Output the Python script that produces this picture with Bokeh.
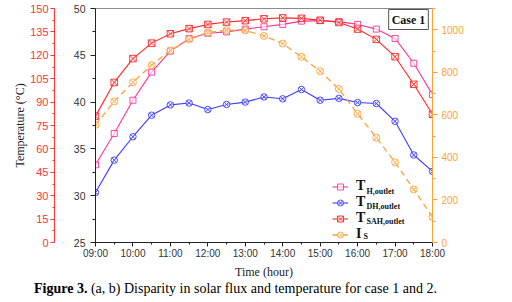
import math
from bokeh.plotting import figure
from bokeh.layouts import column
from bokeh.models import (Range1d, LinearAxis, FixedTicker, Label, Legend,
                          LegendItem, Div)
from bokeh.embed import file_html
from bokeh.resources import INLINE

# Half-hourly measurements, case 1
times = ["09:00", "09:30", "10:00", "10:30", "11:00", "11:30", "12:00", "12:30",
         "13:00", "13:30", "14:00", "14:30", "15:00", "15:30", "16:00", "16:30",
         "17:00", "17:30", "18:00"]
t_h_outlet = [33.3, 36.65, 40.2, 43.2, 45.45, 46.8, 47.35, 47.5, 47.8, 48.05,
              48.3, 48.65, 48.7, 48.6, 48.3, 47.8, 46.8, 44.15, 40.8]
t_dh_outlet = [30.35, 33.8, 36.3, 38.6, 39.7, 39.9, 39.2, 39.75, 40.0, 40.55,
               40.35, 41.35, 40.2, 40.4, 39.95, 39.85, 37.95, 34.35, 32.6]
t_sah_outlet = [38.5, 42.1, 44.65, 46.3, 47.3, 47.85, 48.3, 48.55, 48.7, 48.9,
                49.0, 48.95, 48.75, 48.5, 47.8, 46.7, 44.85, 41.9, 38.7]
solar_is = [553, 663, 753, 834, 903, 955, 987, 998, 997, 971,
            935, 873, 805, 722, 605, 493, 377, 249, 120]

hour_labels = ["09:00", "10:00", "11:00", "12:00", "13:00", "14:00",
               "15:00", "16:00", "17:00", "18:00"]
temp_ticks = [25, 30, 35, 40, 45, 50]
temp_outer_ticks = [0, 15, 30, 45, 60, 75, 90, 105, 120, 135, 150]
solar_ticks = [0, 200, 400, 600, 800, 1000]

PINK = "#ff3399"
BLUE = "#3b3bff"
RED = "#ff2626"
ORANGE = "#ffa238"
AXIS_RED = "#ff3333"
TICK_FONT = "Liberation Sans"
SERIF = "Liberation Serif"


def to_hours(s):
    h, m = s.split(":")
    return int(h) + int(m) / 60.0


def midpoints(ticks):
    return [(a + b) / 2.0 for a, b in zip(ticks[:-1], ticks[1:])]


x = [to_hours(t) for t in times]
hour_ticks = [to_hours(t) for t in hour_labels]
x0, x1 = hour_ticks[0], hour_ticks[-1]

p = figure(width=512, height=282, output_backend="svg", toolbar_location=None,
           x_range=Range1d(x0, x1),
           y_range=Range1d(temp_ticks[0], temp_ticks[-1]),
           min_border_left=95, min_border_right=80, min_border_top=8,
           min_border_bottom=40)
p.extra_y_ranges = {"outer": Range1d(temp_outer_ticks[0], temp_outer_ticks[-1]),
                    "solar": Range1d(0, 1100)}
p.grid.visible = False
p.background_fill_color = "white"
p.border_fill_color = "white"
p.outline_line_color = "#8c8c8c"
p.outline_line_width = 1

# bottom time axis
xa = p.xaxis[0]
xa.ticker = FixedTicker(ticks=hour_ticks, minor_ticks=midpoints(hour_ticks))
xa.major_label_overrides = {h: lbl for h, lbl in zip(hour_ticks, hour_labels)}
xa.axis_label = "Time (hour)"
xa.axis_label_text_font = SERIF
xa.axis_label_text_font_style = "normal"
xa.axis_label_text_font_size = "12px"
xa.axis_label_text_color = "#222222"
xa.axis_label_standoff = 3
xa.major_label_text_font = TICK_FONT
xa.major_label_text_font_size = "10px"
xa.major_label_text_color = "#333333"
xa.major_label_standoff = 1
xa.axis_line_color = "#222222"
xa.major_tick_line_color = "#222222"
xa.minor_tick_line_color = "#222222"
xa.major_tick_out = 4
xa.major_tick_in = 0
xa.minor_tick_out = 2
xa.minor_tick_in = 0

# inner temperature axis (25-50)
ya = p.yaxis[0]
ya.ticker = FixedTicker(ticks=temp_ticks, minor_ticks=midpoints(temp_ticks))
ya.major_label_text_font = TICK_FONT
ya.major_label_text_font_size = "10.5px"
ya.major_label_text_color = "#333333"
ya.major_label_standoff = 5
ya.axis_line_color = "#222222"
ya.major_tick_line_color = "#222222"
ya.minor_tick_line_color = "#222222"
ya.major_tick_out = 5
ya.major_tick_in = 0
ya.minor_tick_out = 3
ya.minor_tick_in = 0
ya.axis_label = " "
ya.axis_label_text_font_size = "8px"
ya.axis_label_standoff = 4

# outer temperature axis (0-150), carrying the shared temperature title
outer = LinearAxis(y_range_name="outer",
                   ticker=FixedTicker(ticks=temp_outer_ticks,
                                      minor_ticks=midpoints(temp_outer_ticks)))
outer.axis_label = "Temperature (\u00b0C)"
outer.axis_label_text_font = SERIF
outer.axis_label_text_font_style = "normal"
outer.axis_label_text_font_size = "12px"
outer.axis_label_text_color = "#222222"
outer.axis_label_standoff = 0
outer.major_label_text_font = TICK_FONT
outer.major_label_text_font_size = "11px"
outer.major_label_text_color = AXIS_RED
outer.major_label_standoff = 2
outer.axis_line_color = AXIS_RED
outer.major_tick_line_color = AXIS_RED
outer.minor_tick_line_color = AXIS_RED
outer.major_tick_out = 4
outer.major_tick_in = 0
outer.minor_tick_out = 2
outer.minor_tick_in = 0
p.add_layout(outer, "left")

# solar intensity axis
solar_ax = LinearAxis(y_range_name="solar",
                      ticker=FixedTicker(ticks=solar_ticks,
                                         minor_ticks=midpoints(solar_ticks) + [1100]))
solar_ax.major_label_text_font = TICK_FONT
solar_ax.major_label_text_font_size = "10px"
solar_ax.major_label_text_color = ORANGE
solar_ax.major_label_standoff = 4
solar_ax.axis_line_color = ORANGE
solar_ax.major_tick_line_color = ORANGE
solar_ax.minor_tick_line_color = ORANGE
solar_ax.major_tick_out = 5
solar_ax.major_tick_in = 0
solar_ax.minor_tick_out = 3
solar_ax.minor_tick_in = 0
p.add_layout(solar_ax, "right")

# series
l_th = p.line(x, t_h_outlet, line_color=PINK, line_width=1.1)
m_th = p.scatter(x, t_h_outlet, marker="square", size=6, line_color=PINK,
                 fill_color="white", fill_alpha=0.6, line_width=0.9)
l_dh = p.line(x, t_dh_outlet, line_color=BLUE, line_width=1.1)
m_dh = p.scatter(x, t_dh_outlet, marker="circle_x", size=6.5, line_color=BLUE,
                 fill_color="white", fill_alpha=0.6, line_width=0.9)
l_is = p.line(x, solar_is, y_range_name="solar", line_color=ORANGE,
              line_width=1.3, line_dash="6 4")
m_is = p.scatter(x, solar_is, y_range_name="solar", marker="circle_x", size=7,
                 line_color=ORANGE, fill_color="white", fill_alpha=0.5,
                 line_width=0.9)
l_sah = p.line(x, t_sah_outlet, line_color=RED, line_width=1.1)
m_sah = p.scatter(x, t_sah_outlet, marker="square_x", size=6.5, line_color=RED,
                  fill_color="white", fill_alpha=0.5, line_width=0.9)

legend = Legend(items=[
    LegendItem(label="T", renderers=[l_th, m_th]),
    LegendItem(label="T", renderers=[l_dh, m_dh]),
    LegendItem(label="T", renderers=[l_sah, m_sah]),
    LegendItem(label="I", renderers=[l_is, m_is]),
], location=(237, 0), orientation="vertical", border_line_color=None,
    background_fill_alpha=0, padding=0, margin=0, spacing=0,
    glyph_width=16, glyph_height=15, label_height=15, label_standoff=8,
    label_text_font=SERIF, label_text_font_style="bold",
    label_text_font_size="14px", label_text_color="#111111")
p.add_layout(legend)

subscripts = ["H,outlet", "DH,outlet", "SAH,outlet", "S"]
for i, sub in enumerate(subscripts):
    p.add_layout(Label(x=271 if i < 3 else 268, y=51.5 - 15 * i,
                       x_units="screen", y_units="screen", text=sub,
                       text_font=SERIF, text_font_style="bold",
                       text_font_size="8px", text_color="#111111",
                       text_baseline="alphabetic"))

p.add_layout(Label(x=313, y=223, x_units="screen", y_units="screen",
                   text="Case 1", text_align="center", text_baseline="middle",
                   text_font=SERIF, text_font_style="bold", text_font_size="12px",
                   text_color="#111111", border_line_color="#555555",
                   background_fill_color="white", padding=3))

# right-hand title, reading bottom-to-top like the left one
p.add_layout(Label(x=378, y=117, x_units="screen", y_units="screen",
                   text="Solar intensity (W/m\u00b2)", angle=math.pi / 2,
                   text_align="center", text_baseline="middle",
                   text_font=SERIF, text_font_size="12px", text_color="#222222"))

caption = Div(
    text="<b>Figure 3.</b> (a, b) Disparity in solar flux and temperature "
         "for case 1 and 2.",
    width=512, height=20, margin=(0, 0, 0, 0),
    styles={"font-family": "'Liberation Serif', serif", "font-size": "14px",
            "line-height": "14px", "padding-left": "34px", "color": "#000000",
            "white-space": "nowrap"})

layout = column(p, caption, spacing=0)

open("out.html", "w").write(file_html(layout, INLINE))
